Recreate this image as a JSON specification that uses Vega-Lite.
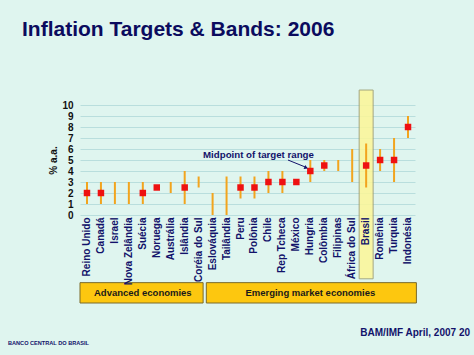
{
  "$schema": "https://vega.github.io/schema/vega-lite/v6.json",
  "width": 335,
  "height": 110,
  "autosize": {"type": "none"},
  "padding": {"left": 80, "top": 105, "right": 59, "bottom": 140},
  "background": "#dff5ef",
  "title": {
    "text": "Inflation Targets & Bands: 2006",
    "anchor": "start",
    "frame": "group",
    "dx": -58,
    "offset": 50,
    "font": "Liberation Sans",
    "fontSize": 21,
    "fontWeight": "bold",
    "color": "#0b0b5e"
  },
  "config": {
    "view": {"stroke": null},
    "font": "Liberation Sans",
    "axisX": {
      "labelAngle": 270,
      "labelPadding": 2,
      "ticks": false,
      "domain": false,
      "grid": false,
      "labelFont": "Liberation Sans",
      "labelFontSize": 10,
      "labelFontWeight": "bold",
      "labelColor": "#12126a",
      "zindex": 1
    },
    "axisY": {
      "labelOverlap": false,
      "ticks": false,
      "domain": false,
      "grid": true,
      "gridColor": "#b9dedd",
      "gridWidth": 1,
      "labelPadding": 7,
      "labelFont": "Liberation Sans",
      "labelFontSize": 10,
      "labelFontWeight": "bold",
      "labelColor": "#111111",
      "titleFont": "Liberation Sans",
      "titleFontSize": 10,
      "titleFontWeight": "bold",
      "titleColor": "#111111",
      "titlePadding": 3
    }
  },
  "encoding": {
    "x": {
      "field": "c",
      "type": "nominal",
      "sort": null,
      "title": null,
      "axis": {"zindex": 1},
      "scale": {
        "type": "band",
        "paddingInner": 0,
        "paddingOuter": 0,
        "domain": ["Reino Unido", "Canadá", "Israel", "Nova Zelândia", "Suécia", "Noruega", "Austrália", "Islândia", "Coréia do Sul", "Eslováquia", "Tailândia", "Peru", "Polônia", "Chile", "Rep Tcheca", "México", "Hungria", "Colômbia", "Filipinas", "África do Sul", "Brasil", "Romênia", "Turquia", "Indonésia"]
      }
    }
  },
  "layer": [
    {
      "data": {"values": [{"c": "Brasil", "top": 11.36, "bottom": -5.8}]},
      "mark": {"type": "rect", "fill": "#fdf797", "stroke": "#9a9a70", "strokeWidth": 1, "opacity": 0.85},
      "encoding": {
        "y": {
          "field": "top",
          "type": "quantitative",
          "title": "% a.a.",
          "axis": {"values": [0, 1, 2, 3, 4, 5, 6, 7, 8, 9, 10], "labelOverlap": false},
          "scale": {"domain": [0, 10], "nice": false, "zero": false}
        },
        "y2": {"field": "bottom"}
      }
    },
    {
      "data": {"values": [
        {"c": "Reino Unido", "lo": 1, "hi": 3},
        {"c": "Canadá", "lo": 1, "hi": 3},
        {"c": "Israel", "lo": 1, "hi": 3},
        {"c": "Nova Zelândia", "lo": 1, "hi": 3},
        {"c": "Suécia", "lo": 1, "hi": 3},
        {"c": "Austrália", "lo": 2, "hi": 3},
        {"c": "Islândia", "lo": 1, "hi": 4},
        {"c": "Coréia do Sul", "lo": 2.5, "hi": 3.5},
        {"c": "Eslováquia", "lo": 0, "hi": 2},
        {"c": "Tailândia", "lo": 0, "hi": 3.5},
        {"c": "Peru", "lo": 1.5, "hi": 3.5},
        {"c": "Polônia", "lo": 1.5, "hi": 3.5},
        {"c": "Chile", "lo": 2, "hi": 4},
        {"c": "Rep Tcheca", "lo": 2, "hi": 4},
        {"c": "Hungria", "lo": 3, "hi": 5},
        {"c": "Colômbia", "lo": 4, "hi": 5},
        {"c": "Filipinas", "lo": 4, "hi": 5},
        {"c": "África do Sul", "lo": 3, "hi": 6},
        {"c": "Brasil", "lo": 2.5, "hi": 6.5},
        {"c": "Romênia", "lo": 4, "hi": 6},
        {"c": "Turquia", "lo": 3, "hi": 7},
        {"c": "Indonésia", "lo": 7, "hi": 9}
      ]},
      "mark": {"type": "rule", "color": "#f2a41e", "strokeWidth": 2},
      "encoding": {
        "y": {"field": "lo", "type": "quantitative", "title": "% a.a.", "axis": {"values": [0, 1, 2, 3, 4, 5, 6, 7, 8, 9, 10], "labelOverlap": false}},
        "y2": {"field": "hi"}
      }
    },
    {
      "data": {"values": [
        {"c": "Reino Unido", "mid": 2},
        {"c": "Canadá", "mid": 2},
        {"c": "Suécia", "mid": 2},
        {"c": "Noruega", "mid": 2.5},
        {"c": "Islândia", "mid": 2.5},
        {"c": "Peru", "mid": 2.5},
        {"c": "Polônia", "mid": 2.5},
        {"c": "Chile", "mid": 3},
        {"c": "Rep Tcheca", "mid": 3},
        {"c": "México", "mid": 3},
        {"c": "Hungria", "mid": 4},
        {"c": "Colômbia", "mid": 4.5},
        {"c": "Brasil", "mid": 4.5},
        {"c": "Romênia", "mid": 5},
        {"c": "Turquia", "mid": 5},
        {"c": "Indonésia", "mid": 8}
      ]},
      "mark": {"type": "square", "color": "#ee1111", "opacity": 1, "size": 42},
      "encoding": {
        "y": {"field": "mid", "type": "quantitative", "title": "% a.a.", "axis": {"values": [0, 1, 2, 3, 4, 5, 6, 7, 8, 9, 10], "labelOverlap": false}}
      }
    },
    {
      "data": {"values": [
        {"c": "Reino Unido", "c2": "Coréia do Sul", "top": -6.15, "bottom": -8.0, "label": "Advanced economies", "mc": "Suécia"}
      ]},
      "layer": [
        {
          "mark": {"type": "rect", "fill": "#fdc70f", "stroke": "#7a6a2a", "strokeWidth": 1},
          "encoding": {
            "x": {"field": "c", "type": "nominal", "bandPosition": 0, "title": null, "axis": {"zindex": 1}},
            "x2": {"field": "c2", "bandPosition": 0.82},
            "y": {"field": "top", "type": "quantitative", "title": "% a.a.", "axis": {"values": [0, 1, 2, 3, 4, 5, 6, 7, 8, 9, 10], "labelOverlap": false}},
            "y2": {"field": "bottom"}
          }
        },
        {
          "mark": {"type": "text", "font": "Liberation Sans", "fontSize": 9.5, "fontWeight": "bold", "color": "#1a1a1a", "baseline": "middle"},
          "encoding": {
            "x": {"field": "mc", "type": "nominal", "title": null, "axis": {"zindex": 1}},
            "y": {"datum": -7.08, "type": "quantitative", "title": "% a.a.", "axis": {"values": [0, 1, 2, 3, 4, 5, 6, 7, 8, 9, 10], "labelOverlap": false}},
            "text": {"field": "label"}
          }
        }
      ]
    },
    {
      "data": {"values": [
        {"c": "Eslováquia", "c2": "Indonésia", "top": -6.15, "bottom": -8.0, "label": "Emerging market economies", "mc": "Hungria"}
      ]},
      "layer": [
        {
          "mark": {"type": "rect", "fill": "#fdc70f", "stroke": "#7a6a2a", "strokeWidth": 1},
          "encoding": {
            "x": {"field": "c", "type": "nominal", "bandPosition": 0.05, "title": null, "axis": {"zindex": 1}},
            "x2": {"field": "c2", "bandPosition": 1.1},
            "y": {"field": "top", "type": "quantitative", "title": "% a.a.", "axis": {"values": [0, 1, 2, 3, 4, 5, 6, 7, 8, 9, 10], "labelOverlap": false}},
            "y2": {"field": "bottom"}
          }
        },
        {
          "mark": {"type": "text", "font": "Liberation Sans", "fontSize": 9.5, "fontWeight": "bold", "color": "#1a1a1a", "baseline": "middle"},
          "encoding": {
            "x": {"field": "mc", "type": "nominal", "title": null, "axis": {"zindex": 1}},
            "y": {"datum": -7.08, "type": "quantitative", "title": "% a.a.", "axis": {"values": [0, 1, 2, 3, 4, 5, 6, 7, 8, 9, 10], "labelOverlap": false}},
            "text": {"field": "label"}
          }
        }
      ]
    },
    {
      "data": {"values": [{"c": "Polônia", "y": 5.45, "label": "Midpoint of target range"}]},
      "mark": {"type": "text", "font": "Liberation Sans", "fontSize": 9.7, "fontWeight": "bold", "color": "#12126a", "baseline": "middle", "dx": 4},
      "encoding": {
        "y": {"field": "y", "type": "quantitative", "title": "% a.a.", "axis": {"values": [0, 1, 2, 3, 4, 5, 6, 7, 8, 9, 10], "labelOverlap": false}},
        "text": {"field": "label"}
      }
    },
    {
      "data": {"values": [{"c": "Rep Tcheca", "c2": "Hungria", "y": 5.0, "y2": 4.3}]},
      "mark": {"type": "rule", "color": "#12126a", "strokeWidth": 1},
      "encoding": {
        "x": {"field": "c", "type": "nominal", "bandPosition": 0.9, "title": null, "axis": {"zindex": 1}},
        "x2": {"field": "c2", "bandPosition": 0.26},
        "y": {"field": "y", "type": "quantitative", "title": "% a.a.", "axis": {"values": [0, 1, 2, 3, 4, 5, 6, 7, 8, 9, 10], "labelOverlap": false}},
        "y2": {"field": "y2"}
      }
    },
    {
      "data": {"values": [{"c": "Hungria", "y": 4.3}]},
      "mark": {"type": "point", "shape": "triangle-right", "filled": true, "color": "#12126a", "opacity": 1, "size": 18, "angle": 23},
      "encoding": {
        "x": {"field": "c", "type": "nominal", "bandPosition": 0.2, "title": null, "axis": {"zindex": 1}},
        "y": {"field": "y", "type": "quantitative", "title": "% a.a.", "axis": {"values": [0, 1, 2, 3, 4, 5, 6, 7, 8, 9, 10], "labelOverlap": false}}
      }
    },
    {
      "data": {"values": [{"c": "Indonésia", "y": -10.73, "label": "BAM/IMF April, 2007  20"}]},
      "mark": {"type": "text", "font": "Liberation Sans", "fontSize": 10, "fontWeight": "bold", "color": "#12126a", "baseline": "middle", "align": "right", "dx": 62},
      "encoding": {
        "y": {"field": "y", "type": "quantitative", "title": "% a.a.", "axis": {"values": [0, 1, 2, 3, 4, 5, 6, 7, 8, 9, 10], "labelOverlap": false}},
        "text": {"field": "label"}
      }
    },
    {
      "data": {"values": [{"c": "Reino Unido", "y": -11.6, "label": "BANCO CENTRAL DO BRASIL"}]},
      "mark": {"type": "text", "font": "Liberation Sans", "fontSize": 5.6, "fontWeight": "bold", "color": "#12126a", "baseline": "middle", "align": "left", "dx": -79},
      "encoding": {
        "y": {"field": "y", "type": "quantitative", "title": "% a.a.", "axis": {"values": [0, 1, 2, 3, 4, 5, 6, 7, 8, 9, 10], "labelOverlap": false}},
        "text": {"field": "label"}
      }
    }
  ]
}
